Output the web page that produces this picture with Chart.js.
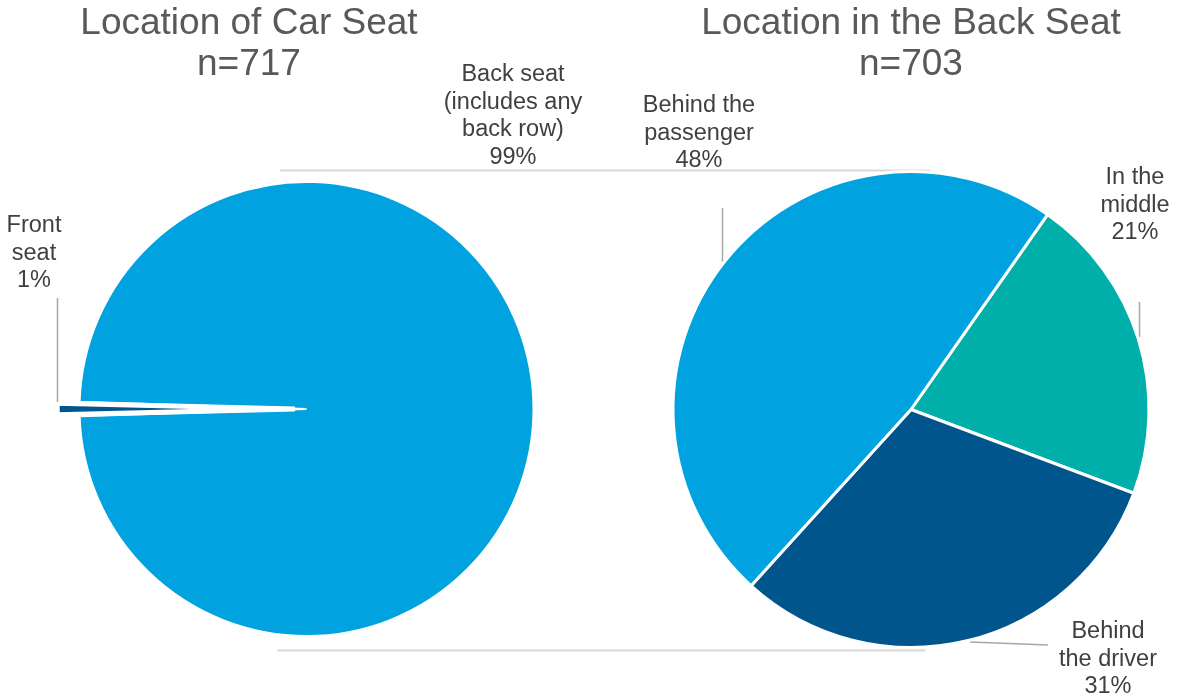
<!DOCTYPE html>
<html>
<head>
<meta charset="utf-8">
<script src="https://cdn.jsdelivr.net/npm/chart.js@4"></script>
<style>
  html, body { margin: 0; padding: 0; background: #fff; }
  #page { position: relative; width: 1178px; height: 698px; overflow: hidden;
          font-family: "Liberation Sans", Arial, sans-serif; }
  #page canvas { position: absolute; left: 0; top: 0; }
  .title { position: absolute; width: 600px; margin-left: -300px; text-align: center;
           font-size: 37px; line-height: 41px; color: #595959; }
  .lbl { position: absolute; width: 220px; margin-left: -110px; text-align: center;
         font-size: 23.5px; line-height: 27.5px; color: #404040; }
</style>
</head>
<body>
<div id="page">
  <canvas id="carSeat" width="1178" height="698"></canvas>
  <canvas id="backSeat" width="1178" height="698"></canvas>
  <div class="title" style="left:249px; top:1px;">Location of Car Seat<br>n=717</div>
  <div class="title" style="left:911px; top:1px;">Location in the Back Seat<br>n=703</div>
  <div id="labels"></div>
</div>
<script>
// Where the car seat sits in the vehicle (n=717)
const carSeatLabels = [["Back seat", "(includes any", "back row)"], ["Front", "seat"]];
const carSeatValues = [99, 1];

// Position within the back seat (n=703)
const backSeatLabels = [["In the", "middle"], ["Behind", "the driver"], ["Behind the", "passenger"]];
const backSeatValues = [21, 31, 48];

const LIGHT = "#00a3e0";
const TEAL = "#00afa9";
const DARK = "#00558c";
const LEADER = "#a6a6a6";
const CONNECT = "#d9d9d9";

// label text anchors (centre x, top y) for each slice
const carSeatLabelPos = [[513, 60], [34, 211]];
const backSeatLabelPos = [[1135, 163], [1108, 617], [699, 91]];

function addLabels(lines, values, pos) {
  const host = document.getElementById("labels");
  lines.forEach((l, i) => {
    const d = document.createElement("div");
    d.className = "lbl";
    d.style.left = pos[i][0] + "px";
    d.style.top = pos[i][1] + "px";
    d.innerHTML = l.concat(values[i] + "%").join("<br>");
    host.appendChild(d);
  });
}
addLabels(carSeatLabels, carSeatValues, carSeatLabelPos);
addLabels(backSeatLabels, backSeatValues, backSeatLabelPos);

// connector lines between the two pies and the label leader lines
const decor = {
  id: "decor",
  afterDraw(chart) {
    const ctx = chart.ctx;
    const seg = (x1, y1, x2, y2, color, w) => {
      ctx.beginPath();
      ctx.moveTo(x1, y1);
      ctx.lineTo(x2, y2);
      ctx.strokeStyle = color;
      ctx.lineWidth = w;
      ctx.stroke();
    };
    ctx.save();
    seg(280, 170.5, 930, 170.5, CONNECT, 2);
    seg(277, 650.5, 925, 650.5, CONNECT, 2);
    seg(57.5, 298, 57.5, 402, LEADER, 1.5);
    seg(722.5, 208, 722.5, 262, LEADER, 1.5);
    seg(1139.5, 302, 1139.5, 337, LEADER, 1.5);
    seg(970, 642, 1048, 645, LEADER, 1.5);
    ctx.restore();
  }
};

const common = {
  responsive: false,
  animation: false,
  events: [],
  plugins: { legend: { display: false }, tooltip: { enabled: false } },
};

new Chart(document.getElementById("carSeat"), {
  type: "pie",
  data: {
    labels: carSeatLabels.map(l => l.join(" ")),
    datasets: [{
      data: carSeatValues,
      backgroundColor: [LIGHT, DARK],
      borderColor: "#fff",
      borderWidth: [2, 5],
      offset: [0, 46],
    }],
  },
  options: {
    ...common,
    rotation: 271.8,
    radius: 227,
    layout: { padding: { left: 0, right: 565, top: 120, bottom: 0 } },
  },
  plugins: [decor],
});

new Chart(document.getElementById("backSeat"), {
  type: "pie",
  data: {
    labels: backSeatLabels.map(l => l.join(" ")),
    datasets: [{
      data: backSeatValues,
      backgroundColor: [TEAL, DARK, LIGHT],
      borderColor: "#fff",
      borderWidth: 3,
    }],
  },
  options: {
    ...common,
    rotation: 35,
    radius: 238,
    layout: { padding: { left: 644, right: 0, top: 121, bottom: 0 } },
  },
});
</script>
</body>
</html>
